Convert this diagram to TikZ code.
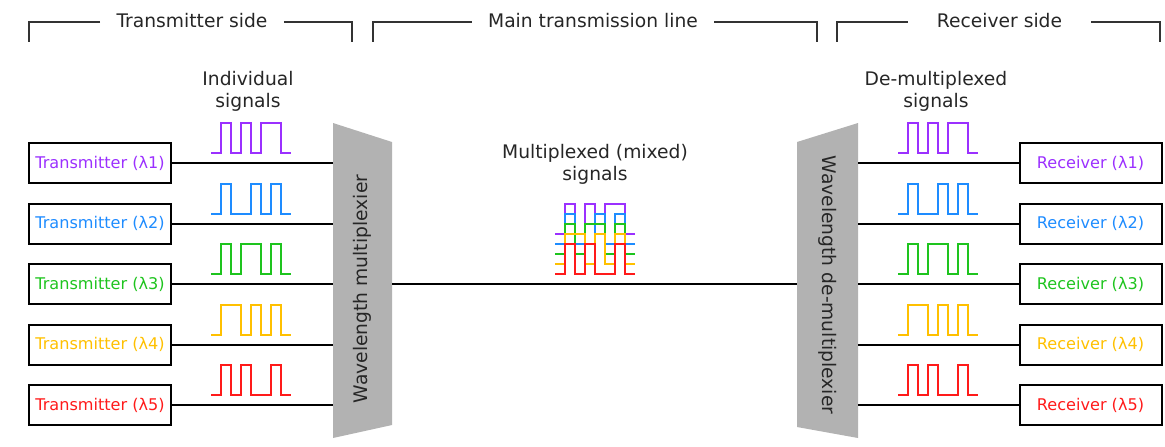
\documentclass[tikz,border=0pt]{standalone}
\usepackage{fontspec}
\setmainfont{DejaVu Sans}
\usetikzlibrary{positioning}

\definecolor{sigpurple}{RGB}{155,48,255}
\definecolor{sigblue}{RGB}{30,140,255}
\definecolor{siggreen}{RGB}{30,196,30}
\definecolor{sigyellow}{RGB}{255,192,0}
\definecolor{sigred}{RGB}{255,26,26}

\newcommand{\headfont}{\fontsize{9.35}{11}\selectfont}
\newcommand{\boxfont}{\fontsize{8.05}{10}\selectfont}

\tikzset{box/.style = {draw, line width=1pt, minimum width=71pt, minimum height=20pt,
                       inner sep=0, font=\boxfont}}
\tikzset{link/.style = {line width=1pt}}
\tikzset{wave/.style = {line width=1pt, line join=miter}}
\tikzset{bracket/.style = {draw=black!80, line width=0.75pt}}
\tikzset{head/.style = {font=\headfont, text=black!85, anchor=base, inner xsep=8pt}}
\tikzset{caption/.style = {font=\headfont, text=black!85, align=center}}
\tikzset{muxfill/.style = {fill=black!30}}

% bit patterns, one unit per bit
\newcommand{\bitsA}{(0,0) -- (1,0) |- (2,3) |- (3,0) |- (4,3) |- (5,0) |- (7,3) |- (8,0)}
\newcommand{\bitsB}{(0,0) -- (1,0) |- (2,3) |- (4,0) |- (5,3) |- (6,0) |- (7,3) |- (8,0)}
\newcommand{\bitsC}{(0,0) -- (1,0) |- (2,3) |- (3,0) |- (5,3) |- (6,0) |- (7,3) |- (8,0)}
\newcommand{\bitsD}{(0,0) -- (1,0) |- (3,3) |- (4,0) |- (5,3) |- (6,0) |- (7,3) |- (8,0)}
\newcommand{\bitsE}{(0,0) -- (1,0) |- (2,3) |- (3,0) |- (4,3) |- (6,0) |- (7,3) |- (8,0)}
\newcommand{\wave}[4]{\draw[wave, #1, shift={(#2,#3)}, x=5pt, y=5pt] #4;}

\begin{document}
\begin{tikzpicture}[x=0.5pt, y=-0.5pt]
      \useasboundingbox (0,0) rectangle (1165,446);

      % headers
      \node [head] (txside) at (192,27) {Transmitter side};
      \node [head] (mainline) at (593,27) {Main transmission line};
      \node [head, inner xsep=14.5pt] (rxside) at (999.5,27) {Receiver side};

      \draw [bracket] (txside.west |- 0,22) -| (29,42);
      \draw [bracket] (txside.east |- 0,22) -| (352,42);
      \draw [bracket] (mainline.west |- 0,22) -| (373,42);
      \draw [bracket] (mainline.east |- 0,22) -| (817,42);
      \draw [bracket] (rxside.west |- 0,22) -| (837,42);
      \draw [bracket] (rxside.east |- 0,22) -| (1160,42);

      \node [caption] (indiv) at (248,91) {Individual\\signals};
      \node [caption] (demuxsig) at (936,91) {De-multiplexed\\signals};
      \node [caption] (mixsig) at (595,164) {Multiplexed (mixed)\\signals};

      % (de)multiplexers
      \fill [muxfill] (333,123) -- (392,142) -- (392,425) -- (333,438) -- cycle;
      \fill [muxfill] (797,142) -- (858,123) -- (858,438) -- (797,427) -- cycle;
      \coordinate (muxL) at (333,0);
      \coordinate (muxR) at (392,0);
      \coordinate (demuxL) at (797,0);
      \coordinate (demuxR) at (858,0);
      \node [rotate=90, font=\headfont, text=black!85] (mux) at (362,289) {Wavelength multiplexier};
      \node [rotate=-90, font=\headfont, text=black!85] (demux) at (827.5,285) {Wavelength de-multiplexier};

      % transmitters and receivers
      \node [box, text=sigpurple] (tx1) at (100,163) {Transmitter (λ1)};
      \node [box, text=sigblue] (tx2) at (100,223.5) {Transmitter (λ2)};
      \node [box, text=siggreen] (tx3) at (100,284) {Transmitter (λ3)};
      \node [box, text=sigyellow] (tx4) at (100,344.5) {Transmitter (λ4)};
      \node [box, text=sigred] (tx5) at (100,405) {Transmitter (λ5)};

      \node [box, text=sigpurple] (rx1) at (1090.5,163) {Receiver (λ1)};
      \node [box, text=sigblue] (rx2) at (1090.5,223.5) {Receiver (λ2)};
      \node [box, text=siggreen] (rx3) at (1090.5,284) {Receiver (λ3)};
      \node [box, text=sigyellow] (rx4) at (1090.5,344.5) {Receiver (λ4)};
      \node [box, text=sigred] (rx5) at (1090.5,405) {Receiver (λ5)};

      \draw [link] (tx1) -- (tx1 -| muxL);
      \draw [link] (tx2) -- (tx2 -| muxL);
      \draw [link] (tx3) -- (tx3 -| muxL);
      \draw [link] (tx4) -- (tx4 -| muxL);
      \draw [link] (tx5) -- (tx5 -| muxL);

      \draw [link] (muxR |- tx3) -- (demuxL |- rx3);

      \draw [link] (demuxR |- rx1) -- (rx1);
      \draw [link] (demuxR |- rx2) -- (rx2);
      \draw [link] (demuxR |- rx3) -- (rx3);
      \draw [link] (demuxR |- rx4) -- (rx4);
      \draw [link] (demuxR |- rx5) -- (rx5);

      % individual signals
      \wave{sigpurple}{211}{153}{\bitsA}
      \wave{sigblue}{211}{213.5}{\bitsB}
      \wave{siggreen}{211}{274}{\bitsC}
      \wave{sigyellow}{211}{334.5}{\bitsD}
      \wave{sigred}{211}{395}{\bitsE}

      \wave{sigpurple}{898}{153}{\bitsA}
      \wave{sigblue}{898}{213.5}{\bitsB}
      \wave{siggreen}{898}{274}{\bitsC}
      \wave{sigyellow}{898}{334.5}{\bitsD}
      \wave{sigred}{898}{395}{\bitsE}

      % mixed signals
      \wave{sigpurple}{555}{234}{\bitsA}
      \wave{sigblue}{555}{244}{\bitsB}
      \wave{siggreen}{555}{254}{\bitsC}
      \wave{sigyellow}{555}{264}{\bitsD}
      \wave{sigred}{555}{274}{\bitsE}
    \end{tikzpicture}
\end{document}
